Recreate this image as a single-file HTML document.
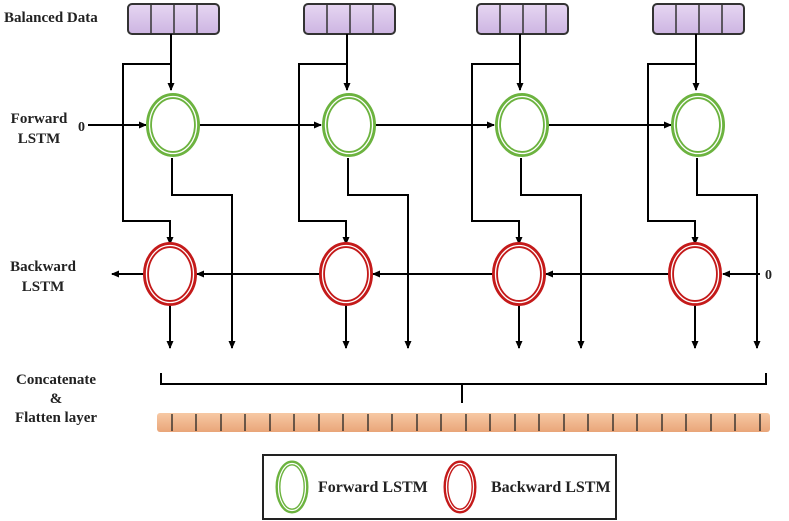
<!DOCTYPE html>
<html><head><meta charset="utf-8"><style>body{margin:0;background:#fff}svg{display:block}text{font-family:"Liberation Serif",serif;font-weight:bold;fill:#222}</style></head><body>
<svg width="789" height="521" viewBox="0 0 789 521" xmlns="http://www.w3.org/2000/svg">
<defs><marker id="a" markerWidth="8" markerHeight="8" refX="7" refY="4" orient="auto" markerUnits="userSpaceOnUse"><path d="M0,0.5 L8,4 L0,7.5 Z" fill="#000"/></marker>
<linearGradient id="p" x1="0" y1="0" x2="0" y2="1"><stop offset="0" stop-color="#e6d6f2"/><stop offset="1" stop-color="#cdb5e2"/></linearGradient>
<linearGradient id="o" x1="0" y1="0" x2="0" y2="1"><stop offset="0" stop-color="#f7c9a4"/><stop offset="1" stop-color="#e9a579"/></linearGradient></defs>
<text x="4" y="22" font-size="15">Balanced Data</text>
<text x="39" y="123" font-size="15" text-anchor="middle">Forward</text><text x="39" y="143" font-size="15" text-anchor="middle">LSTM</text>
<text x="43" y="271" font-size="15" text-anchor="middle">Backward</text><text x="43" y="291" font-size="15" text-anchor="middle">LSTM</text>
<text x="56" y="384" font-size="15" text-anchor="middle">Concatenate</text><text x="56" y="403" font-size="15" text-anchor="middle">&amp;</text><text x="56" y="422" font-size="15" text-anchor="middle">Flatten layer</text>
<text x="78" y="131" font-size="14">0</text><text x="765" y="279" font-size="14">0</text>
<g stroke="#000" stroke-width="2" fill="none">
<line x1="88" y1="125" x2="146" y2="125" marker-end="url(#a)"/>
<line x1="198" y1="125" x2="321" y2="125" marker-end="url(#a)"/>
<line x1="373" y1="125" x2="494" y2="125" marker-end="url(#a)"/>
<line x1="546" y1="125" x2="671" y2="125" marker-end="url(#a)"/>
<line x1="760" y1="274" x2="723" y2="274" marker-end="url(#a)"/>
<line x1="669" y1="274" x2="546" y2="274" marker-end="url(#a)"/>
<line x1="493" y1="274" x2="373" y2="274" marker-end="url(#a)"/>
<line x1="320" y1="274" x2="197" y2="274" marker-end="url(#a)"/>
<line x1="144" y1="274" x2="112" y2="274" marker-end="url(#a)"/>
</g>
<g id="c1">
<rect x="128" y="4" width="91" height="30" rx="4" fill="url(#p)" stroke="#333" stroke-width="2"/>
<g stroke="#333" stroke-width="1.5"><line x1="151" y1="4" x2="151" y2="34"/><line x1="174" y1="4" x2="174" y2="34"/><line x1="197" y1="4" x2="197" y2="34"/></g>
<g stroke="#000" stroke-width="2" fill="none">
<line x1="171" y1="34" x2="171" y2="90" marker-end="url(#a)"/>
<polyline points="171,64 123,64 123,221 170,221 170,244" marker-end="url(#a)"/>
<polyline points="172,158 172,195 232,195 232,348" marker-end="url(#a)"/>
<line x1="170" y1="305" x2="170" y2="348" marker-end="url(#a)"/>
</g>
<ellipse cx="173" cy="125" rx="24" ry="29" fill="#fff" stroke="#6cb33f" stroke-width="6"/><ellipse cx="173" cy="125" rx="23.5" ry="28.5" fill="none" stroke="#fff" stroke-width="1.3"/>
<ellipse cx="170" cy="274" rx="24" ry="29" fill="#fff" stroke="#c41a1a" stroke-width="6"/><ellipse cx="170" cy="274" rx="23.5" ry="28.5" fill="none" stroke="#fff" stroke-width="1.3"/>
</g>
<use href="#c1" x="176"/><use href="#c1" x="349"/><use href="#c1" x="525"/>
<path d="M161,373 V384 H766 V373 M462,384 V403" stroke="#000" stroke-width="2" fill="none"/>
<rect x="157" y="413" width="613" height="19" rx="3" fill="url(#o)"/>
<g stroke="#222" stroke-width="1.3">
<line x1="172" y1="414" x2="172" y2="431"/><line x1="196" y1="414" x2="196" y2="431"/><line x1="221" y1="414" x2="221" y2="431"/><line x1="245" y1="414" x2="245" y2="431"/><line x1="270" y1="414" x2="270" y2="431"/><line x1="294" y1="414" x2="294" y2="431"/><line x1="319" y1="414" x2="319" y2="431"/><line x1="343" y1="414" x2="343" y2="431"/><line x1="368" y1="414" x2="368" y2="431"/><line x1="392" y1="414" x2="392" y2="431"/><line x1="417" y1="414" x2="417" y2="431"/><line x1="441" y1="414" x2="441" y2="431"/><line x1="466" y1="414" x2="466" y2="431"/><line x1="490" y1="414" x2="490" y2="431"/><line x1="515" y1="414" x2="515" y2="431"/><line x1="539" y1="414" x2="539" y2="431"/><line x1="564" y1="414" x2="564" y2="431"/><line x1="588" y1="414" x2="588" y2="431"/><line x1="613" y1="414" x2="613" y2="431"/><line x1="637" y1="414" x2="637" y2="431"/><line x1="662" y1="414" x2="662" y2="431"/><line x1="686" y1="414" x2="686" y2="431"/><line x1="711" y1="414" x2="711" y2="431"/><line x1="735" y1="414" x2="735" y2="431"/><line x1="760" y1="414" x2="760" y2="431"/>
</g>
<rect x="263" y="455" width="353" height="64" fill="#fff" stroke="#222" stroke-width="2"/>
<ellipse cx="292" cy="487" rx="14" ry="24" fill="#fff" stroke="#6cb33f" stroke-width="5"/><ellipse cx="292" cy="487" rx="13.5" ry="23.5" fill="none" stroke="#fff" stroke-width="1.2"/>
<ellipse cx="460" cy="487" rx="14" ry="24" fill="#fff" stroke="#c41a1a" stroke-width="5"/><ellipse cx="460" cy="487" rx="13.5" ry="23.5" fill="none" stroke="#fff" stroke-width="1.2"/>
<text x="318" y="492" font-size="16">Forward LSTM</text>
<text x="491" y="492" font-size="16">Backward LSTM</text>
</svg>
</body></html>
